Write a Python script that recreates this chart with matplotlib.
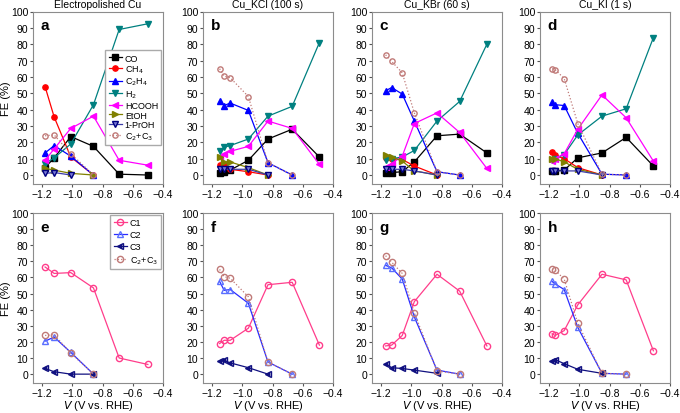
import matplotlib
matplotlib.use("Agg")
import matplotlib.pyplot as plt

plt.rcParams["font.family"] = ["Liberation Sans", "DejaVu Sans"]
plt.rcParams["font.size"] = 7.5

# ---- data (FE %) ----
titles = ["Electropolished Cu", "Cu_KCl (100 s)", "Cu_KBr (60 s)", "Cu_KI (1 s)"]
letters_top = ["a", "b", "c", "d"]
letters_bot = ["e", "f", "g", "h"]

V_ep = [-1.18, -1.12, -1.01, -0.86, -0.69, -0.50]
V_kcl = [-1.15, -1.12, -1.08, -0.96, -0.83, -0.67, -0.49]
V_kbr = [-1.17, -1.13, -1.06, -0.98, -0.83, -0.68, -0.50]
V_ki = [-1.18, -1.16, -1.10, -1.01, -0.85, -0.69, -0.51]

# electropolished Cu
co_ep = [4.5, 10.5, 23.5, 17.5, 0.5, 0]
ch4_ep = [54, 35.5, 11, 0]
c2h4_ep = [13.5, 18, 11.5, 0]
h2_ep = [7, 10.5, 19, 43, 89, 92.5]
hcooh_ep = [9, 16, 28.5, 36, 9, 6]
etoh_ep = [4, 3, 1, 0]
proh_ep = [1, 1.5, 0]
c23_ep = [24, 24.5, 13, 0]
c1_ep = [66.5, 62.5, 63, 53.5, 10, 6]
c2_ep = [20.5, 23, 13.5, 0]
c3_ep = [3.5, 1.5, 0, 0]

# Cu_KCl
co_kcl = [1.5, 2, 3, 9, 22, 28, 11]
ch4_kcl = [6, 6, 3.5, 2, 0]
c2h4_kcl = [45, 42.5, 44, 39.5, 7.5, 0]
h2_kcl = [14.5, 17, 18, 22, 36, 42, 81]
hcooh_kcl = [11, 13, 14.5, 17.5, 33, 28.5, 6.5]
etoh_kcl = [11, 8, 8, 4.5, 0]
proh_kcl = [3.5, 3.5, 3.5, 3.5, 0]
c23_kcl = [65, 60.5, 59.5, 48, 7.5, 0]
c1_kcl = [19, 21, 21, 28.5, 55.5, 57, 18]
c2_kcl = [57.5, 52, 52.5, 44, 7.5, 0]
c3_kcl = [8, 8.5, 7, 4, 0]

# Cu_KBr
co_kbr = [1, 1.5, 2, 8, 24, 25, 13.5]
ch4_kbr = [10.5, 10, 9.5, 5.5, 0]
c2h4_kbr = [51.5, 53.5, 49.5, 33, 2, 0]
h2_kbr = [9, 10, 11, 15, 33, 45, 80]
hcooh_kbr = [5, 7, 11.5, 31.5, 38, 26, 4]
etoh_kbr = [12.5, 11, 8.5, 2.5, 0]
proh_kbr = [3.5, 3.5, 3.5, 2.5, 0]
c23_kbr = [73.5, 69.5, 62.5, 38, 2, 0]
c1_kbr = [17.5, 18, 24, 45, 62, 51.5, 17.5]
c2_kbr = [67.5, 66, 59, 35.5, 2.5, 0]
c3_kbr = [6.5, 4, 3.5, 2.5, 0.5]

# Cu_KI
co_ki = [2.5, 2.5, 3, 10.5, 13.5, 23, 5.5]
ch4_ki = [14, 12, 10, 4.5, 0]
c2h4_ki = [44.5, 43, 42.5, 25.5, 0.5, 0]
h2_ki = [9, 10, 12.5, 24.5, 36, 40.5, 84]
hcooh_ki = [8.5, 10, 13, 28, 49, 35, 8.5]
etoh_ki = [10, 10, 8, 3.5, 0]
proh_ki = [2.5, 2.5, 2.5, 2.5, 0]
c23_ki = [65, 64.5, 59, 31.5, 0.5, 0]
c1_ki = [25, 24, 27, 43, 62, 58.5, 14.5]
c2_ki = [57.5, 56, 52.5, 29, 0.5, 0]
c3_ki = [8, 9, 6.5, 3, 0.5]

V_all = [V_ep, V_kcl, V_kbr, V_ki]
products = {
    "CO": [co_ep, co_kcl, co_kbr, co_ki],
    "CH$_4$": [ch4_ep, ch4_kcl, ch4_kbr, ch4_ki],
    "C$_2$H$_4$": [c2h4_ep, c2h4_kcl, c2h4_kbr, c2h4_ki],
    "H$_2$": [h2_ep, h2_kcl, h2_kbr, h2_ki],
    "HCOOH": [hcooh_ep, hcooh_kcl, hcooh_kbr, hcooh_ki],
    "EtOH": [etoh_ep, etoh_kcl, etoh_kbr, etoh_ki],
    "1-PrOH": [proh_ep, proh_kcl, proh_kbr, proh_ki],
    "C$_2$+C$_3$": [c23_ep, c23_kcl, c23_kbr, c23_ki],
}
groups = {
    "C1": [c1_ep, c1_kcl, c1_kbr, c1_ki],
    "C2": [c2_ep, c2_kcl, c2_kbr, c2_ki],
    "C3": [c3_ep, c3_kcl, c3_kbr, c3_ki],
    "C$_2$+C$_3$": [c23_ep, c23_kcl, c23_kbr, c23_ki],
}

# marker styles
c23_col = "#c07a78"
prod_style = {
    "CO": dict(color="black", marker="s"),
    "CH$_4$": dict(color="red", marker="o"),
    "C$_2$H$_4$": dict(color="blue", marker="^"),
    "H$_2$": dict(color="#008080", marker="v"),
    "HCOOH": dict(color="magenta", marker="<"),
    "EtOH": dict(color="#808000", marker=">"),
    "1-PrOH": dict(color="#3c3ca8", marker="v", mfc="#7a7ad6", mec="#000080"),
    "C$_2$+C$_3$": dict(color=c23_col, marker="o", mfc="none", ls=":"),
}
group_style = {
    "C1": dict(color="#ff3d8b", marker="o", mfc="none"),
    "C2": dict(color="#2b2bff", marker="^", mfc="none", mec="#5a6fff"),
    "C3": dict(color="#101080", marker="<", mfc="#101080", fillstyle="left"),
    "C$_2$+C$_3$": dict(color=c23_col, marker="o", mfc="none", ls=":"),
}

fig = plt.figure(figsize=(6.8, 4.14), dpi=100)
lefts = [33, 203, 372, 540]
w_px = 130


def style_ax(ax):
    ax.set_xlim(-1.26, -0.4)
    ax.set_ylim(-5.5, 100)
    ax.set_xticks([-1.2, -1.0, -0.8, -0.6, -0.4])
    ax.set_yticks(range(0, 101, 10))
    ax.set_xticklabels(["\u22121.2", "\u22121.0", "\u22120.8", "\u22120.6", "\u22120.4"])
    for s in ax.spines.values():
        s.set_color("#8c8c8c")
        s.set_linewidth(0.8)
    ax.tick_params(direction="out", length=2.5, width=0.8, color="#555555",
                   labelsize=7.5, pad=1)


leg_kw = dict(fontsize=6.5, handlelength=1.5, handletextpad=0.3,
              borderpad=0.35, frameon=True, fancybox=False,
              edgecolor="#aaaaaa", framealpha=1, borderaxespad=0.2)

for i in range(4):
    x0 = lefts[i] / 680
    ax = fig.add_axes([x0, 229 / 414, w_px / 680, 172.5 / 414])
    style_ax(ax)
    ax.set_title(titles[i], fontsize=7.5, pad=3)
    for name, data in products.items():
        y = data[i]
        st = dict(prod_style[name])
        ax.plot(V_all[i][:len(y)], y, lw=0.9, ms=3.8, label=name, **st)
    ax.text(0.06, 0.96, letters_top[i], transform=ax.transAxes, fontsize=11,
            fontweight="bold", va="top", ha="left")
    if i == 0:
        ax.set_ylabel("FE (%)", fontsize=8)
        ax.yaxis.set_label_coords(-0.17, 0.5)
        ax.legend(loc="upper right", bbox_to_anchor=(1.0, 0.785),
                  labelspacing=0.1, **leg_kw)

    axb = fig.add_axes([x0, 30 / 414, w_px / 680, 170 / 414])
    style_ax(axb)
    for name, data in groups.items():
        y = data[i]
        st = dict(group_style[name])
        axb.plot(V_all[i][:len(y)], y, lw=0.9, ms=4.5, label=name, **st)
    axb.text(0.06, 0.96, letters_bot[i], transform=axb.transAxes, fontsize=11,
             fontweight="bold", va="top", ha="left")
    axb.set_xlabel("$V$ (V vs. RHE)", fontsize=8, labelpad=0)
    if i == 0:
        axb.set_ylabel("FE (%)", fontsize=8)
        axb.yaxis.set_label_coords(-0.17, 0.5)
        axb.legend(loc="upper right", labelspacing=0.35, **leg_kw)

fig.savefig("out.png", dpi=100)
